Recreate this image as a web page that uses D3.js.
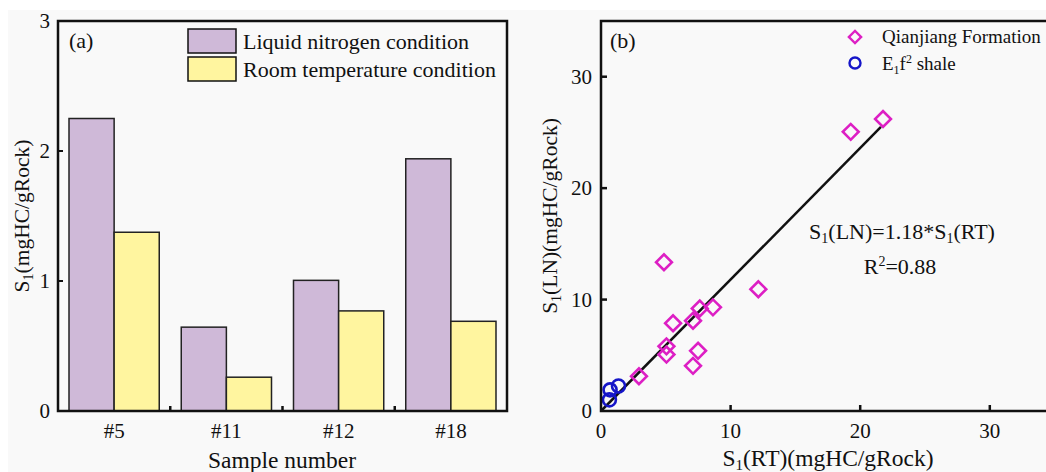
<!DOCTYPE html>
<html>
<head>
<meta charset="utf-8">
<script src="https://cdn.jsdelivr.net/npm/d3@7"></script>
<style>
  body { margin: 0; background: #fff; }
  svg { display: block; font-family: "Liberation Serif", "Times New Roman", serif; }
</style>
</head>
<body>
<svg width="1046" height="472"></svg>
<script>
// panel (a) data
var samples = ["#5", "#11", "#12", "#18"];
var lnValues = [2.25, 0.645, 1.005, 1.94];
var rtValues = [1.375, 0.26, 0.77, 0.69];
var yTicksA = [0, 1, 2, 3];

// panel (b) data
var qjRT = [21.76, 19.27, 4.86, 12.14, 8.64, 7.62, 7.1, 5.56, 5.05, 5.05, 7.49, 7.1, 2.93];
var qjLN = [26.2, 25.05, 13.35, 10.93, 9.3, 9.2, 8.1, 7.88, 5.8, 5.06, 5.4, 4.05, 3.12];
var efRT = [0.7, 1.35, 0.65];
var efLN = [1.9, 2.25, 1.0];
var ticksB = [0, 10, 20, 30];
var slope = 1.18, fitMax = 21.6;

var svg = d3.select("svg");
svg.append("rect").attr("x", 8).attr("y", 10).attr("width", 1038).attr("height", 462)
  .attr("fill", "#f9f9f9");

// ---------- panel (a) ----------
var a = { left: 58, right: 507, top: 21, bottom: 411 };
var gA = svg.append("g");

var x0 = d3.scaleBand().domain(samples).range([a.left, a.right]).paddingInner(0.196).paddingOuter(0.098);
var x1 = d3.scaleBand().domain(["ln", "rt"]).range([0, x0.bandwidth()]);
var yA = d3.scaleLinear().domain([0, 3]).range([a.bottom, a.top]);

var bars = [];
samples.forEach(function(s, i) {
  bars.push({ s: s, k: "ln", v: lnValues[i] });
  bars.push({ s: s, k: "rt", v: rtValues[i] });
});
var fills = { ln: "#cfb9d8", rt: "#fff59f" };

gA.selectAll("rect.bar").data(bars).enter().append("rect")
  .attr("class", "bar")
  .attr("x", function(d) { return x0(d.s) + x1(d.k); })
  .attr("y", function(d) { return yA(d.v); })
  .attr("width", x1.bandwidth())
  .attr("height", function(d) { return a.bottom - yA(d.v); })
  .attr("fill", function(d) { return fills[d.k]; })
  .attr("stroke", "#222").attr("stroke-width", 1.5);

// inward ticks on y
gA.selectAll("line.yt").data(yTicksA.slice(1, 3)).enter().append("line")
  .attr("x1", a.left).attr("x2", a.left + 5)
  .attr("y1", function(d) { return yA(d); }).attr("y2", function(d) { return yA(d); })
  .attr("stroke", "#111").attr("stroke-width", 2);
gA.selectAll("text.yl").data(yTicksA).enter().append("text")
  .attr("x", a.left - 8).attr("y", function(d) { return yA(d) + 7; })
  .attr("text-anchor", "end").attr("font-size", 21).attr("fill", "#111")
  .text(function(d) { return d; });

// group separator ticks on x
var step = x0.step();
gA.selectAll("line.xt").data(samples.slice(1)).enter().append("line")
  .attr("x1", function(d) { return x0(d) - (step - x0.bandwidth()) / 2; })
  .attr("x2", function(d) { return x0(d) - (step - x0.bandwidth()) / 2; })
  .attr("y1", a.bottom).attr("y2", a.bottom - 5)
  .attr("stroke", "#111").attr("stroke-width", 2.5);
gA.selectAll("text.xl").data(samples).enter().append("text")
  .attr("x", function(d) { return x0(d) + x0.bandwidth() / 2; })
  .attr("y", 438).attr("text-anchor", "middle").attr("font-size", 21).attr("fill", "#111")
  .text(function(d) { return d; });

gA.append("rect").attr("x", a.left).attr("y", a.top)
  .attr("width", a.right - a.left).attr("height", a.bottom - a.top)
  .attr("fill", "none").attr("stroke", "#111").attr("stroke-width", 2.5);

gA.append("text").attr("x", 69).attr("y", 48).attr("font-size", 22).attr("fill", "#111").text("(a)");

// legend (a)
var legA = [{ k: "ln", t: "Liquid nitrogen condition" }, { k: "rt", t: "Room temperature condition" }];
legA.forEach(function(d, i) {
  gA.append("rect").attr("x", 188).attr("y", 29 + i * 28).attr("width", 48).attr("height", 24)
    .attr("fill", fills[d.k]).attr("stroke", "#111").attr("stroke-width", 1.5);
  gA.append("text").attr("x", 243).attr("y", 49 + i * 28).attr("font-size", 22).attr("fill", "#111").text(d.t);
});

// axis titles (a)
var ytA = gA.append("text").attr("transform", "translate(29,216) rotate(-90)")
  .attr("text-anchor", "middle").attr("font-size", 21.5).attr("fill", "#111");
ytA.append("tspan").text("S");
ytA.append("tspan").attr("font-size", 14).attr("dy", 4).text("1");
ytA.append("tspan").attr("dy", -4).text("(mgHC/gRock)");
gA.append("text").attr("x", 282).attr("y", 468).attr("text-anchor", "middle")
  .attr("font-size", 23.5).attr("fill", "#111").text("Sample number");

// ---------- panel (b) ----------
var b = { left: 601, top: 21, bottom: 411 };
var xB = d3.scaleLinear().domain([0, 35]).range([b.left, b.left + 35 * 12.96]);
var yB = d3.scaleLinear().domain([0, 35]).range([b.bottom, b.top]);
var gB = svg.append("g");

gB.selectAll("line.xt").data(ticksB.slice(1)).enter().append("line")
  .attr("x1", function(d) { return xB(d); }).attr("x2", function(d) { return xB(d); })
  .attr("y1", b.bottom).attr("y2", b.bottom - 6)
  .attr("stroke", "#111").attr("stroke-width", 2.5);
gB.selectAll("line.yt").data(ticksB.slice(1)).enter().append("line")
  .attr("x1", b.left).attr("x2", b.left + 6)
  .attr("y1", function(d) { return yB(d); }).attr("y2", function(d) { return yB(d); })
  .attr("stroke", "#111").attr("stroke-width", 2.5);
gB.selectAll("text.xl").data(ticksB).enter().append("text")
  .attr("x", function(d) { return xB(d); }).attr("y", 438)
  .attr("text-anchor", "middle").attr("font-size", 21).attr("fill", "#111")
  .text(function(d) { return d; });
gB.selectAll("text.yl").data(ticksB).enter().append("text")
  .attr("x", b.left - 9).attr("y", function(d) { return yB(d) + 7; })
  .attr("text-anchor", "end").attr("font-size", 21).attr("fill", "#111")
  .text(function(d) { return d; });

// fit line
var line = d3.line().x(function(d) { return xB(d); }).y(function(d) { return yB(slope * d); });
gB.append("path").datum([0, fitMax]).attr("d", line)
  .attr("fill", "none").attr("stroke", "#111").attr("stroke-width", 2.5);

var diamond = d3.symbol().type(d3.symbolSquare).size(125);
var qj = qjRT.map(function(v, i) { return [v, qjLN[i]]; });
var ef = efRT.map(function(v, i) { return [v, efLN[i]]; });

gB.selectAll("path.qj").data(qj).enter().append("path")
  .attr("d", diamond)
  .attr("transform", function(d) { return "translate(" + xB(d[0]) + "," + yB(d[1]) + ") rotate(45)"; })
  .attr("fill", "none").attr("stroke", "#dd1fc4").attr("stroke-width", 2.6);
gB.selectAll("circle.ef").data(ef).enter().append("circle")
  .attr("cx", function(d) { return xB(d[0]); }).attr("cy", function(d) { return yB(d[1]); })
  .attr("r", 6.5).attr("fill", "none").attr("stroke", "#1515c8").attr("stroke-width", 2.6);

// frame (right edge runs off the canvas)
gB.append("rect").attr("x", b.left).attr("y", b.top)
  .attr("width", xB(35) - b.left).attr("height", b.bottom - b.top)
  .attr("fill", "none").attr("stroke", "#111").attr("stroke-width", 2.5);

gB.append("text").attr("x", 610).attr("y", 48).attr("font-size", 22).attr("fill", "#111").text("(b)");

// legend (b)
gB.append("path").attr("d", d3.symbol().type(d3.symbolSquare).size(75))
  .attr("transform", "translate(855,37) rotate(45)")
  .attr("fill", "none").attr("stroke", "#dd1fc4").attr("stroke-width", 2.4);
gB.append("text").attr("x", 882).attr("y", 43).attr("font-size", 19).attr("fill", "#111").text("Qianjiang Formation");
gB.append("circle").attr("cx", 855).attr("cy", 63).attr("r", 5.5)
  .attr("fill", "none").attr("stroke", "#1515c8").attr("stroke-width", 2.4);
var leg2 = gB.append("text").attr("x", 882).attr("y", 70).attr("font-size", 19).attr("fill", "#111");
leg2.append("tspan").text("E");
leg2.append("tspan").attr("font-size", 12).attr("dy", 4).text("1");
leg2.append("tspan").attr("dy", -4).text("f");
leg2.append("tspan").attr("font-size", 12).attr("dy", -7).text("2");
leg2.append("tspan").attr("dy", 7).text(" shale");

// equation
var eq = gB.append("text").attr("x", 902).attr("y", 239).attr("text-anchor", "middle")
  .attr("font-size", 22).attr("fill", "#111");
eq.append("tspan").text("S");
eq.append("tspan").attr("font-size", 14).attr("dy", 4).text("1");
eq.append("tspan").attr("dy", -4).text("(LN)=1.18*S");
eq.append("tspan").attr("font-size", 14).attr("dy", 4).text("1");
eq.append("tspan").attr("dy", -4).text("(RT)");
var r2 = gB.append("text").attr("x", 900).attr("y", 274).attr("text-anchor", "middle")
  .attr("font-size", 22).attr("fill", "#111");
r2.append("tspan").text("R");
r2.append("tspan").attr("font-size", 14).attr("dy", -8).text("2");
r2.append("tspan").attr("dy", 8).text("=0.88");

// axis titles (b)
var ytB = gB.append("text").attr("transform", "translate(557,216) rotate(-90)")
  .attr("text-anchor", "middle").attr("font-size", 21.5).attr("fill", "#111");
ytB.append("tspan").text("S");
ytB.append("tspan").attr("font-size", 14).attr("dy", 4).text("1");
ytB.append("tspan").attr("dy", -4).text("(LN)(mgHC/gRock)");
var xtB = gB.append("text").attr("x", 828).attr("y", 466).attr("text-anchor", "middle")
  .attr("font-size", 23.5).attr("fill", "#111");
xtB.append("tspan").text("S");
xtB.append("tspan").attr("font-size", 15).attr("dy", 4).text("1");
xtB.append("tspan").attr("dy", -4).text("(RT)(mgHC/gRock)");
</script>
</body>
</html>
